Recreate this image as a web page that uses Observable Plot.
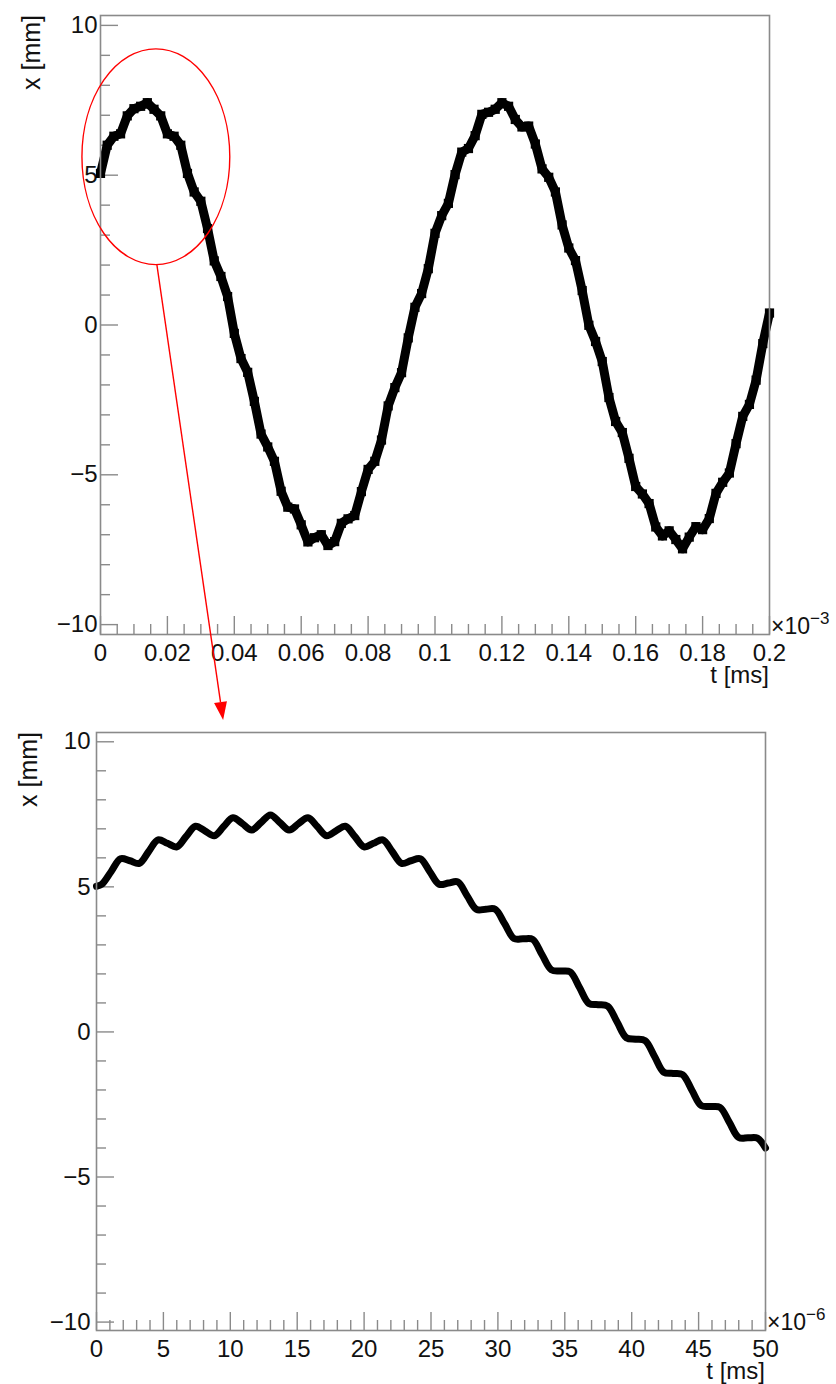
<!DOCTYPE html>
<html><head><meta charset="utf-8">
<script src="https://cdn.jsdelivr.net/npm/d3@7"></script>
<script src="https://cdn.jsdelivr.net/npm/@observablehq/plot@0.6"></script>
<style>
html,body{margin:0;padding:0;background:#fff;}
#wrap{position:relative;width:836px;height:1384px;font-family:"Liberation Sans",Arial,Helvetica,sans-serif;}
#wrap > svg{position:absolute;left:0;}
</style></head><body><div id="wrap"></div>
<script>
// ---------- data ----------
// top panel: t in units of 1e-3 ms, x in mm
const topT = [0,0.002,0.004,0.006,0.008,0.010,0.012,0.014,0.016,0.018,
 0.020,0.022,0.024,0.026,0.028,0.030,0.032,0.034,0.036,0.038,
 0.040,0.042,0.044,0.046,0.048,0.050,0.052,0.054,0.056,0.058,
 0.060,0.062,0.064,0.066,0.068,0.070,0.072,0.074,0.076,0.078,
 0.080,0.082,0.084,0.086,0.088,0.090,0.092,0.094,0.096,0.098,
 0.100,0.102,0.104,0.106,0.108,0.110,0.112,0.114,0.116,0.118,
 0.120,0.122,0.124,0.126,0.128,0.130,0.132,0.134,0.136,0.138,
 0.140,0.142,0.144,0.146,0.148,0.150,0.152,0.154,0.156,0.158,
 0.160,0.162,0.164,0.166,0.168,0.170,0.172,0.174,0.176,0.178,
 0.180,0.182,0.184,0.186,0.188,0.190,0.192,0.194,0.196,0.198,
 0.200];
const topX = [5.06,6.00,6.30,6.38,6.98,7.22,7.30,7.42,7.20,6.98,
 6.38,6.30,6.00,5.06,4.44,4.13,3.22,2.14,1.62,0.95,
 -0.28,-1.12,-1.58,-2.55,-3.64,-4.07,-4.55,-5.55,-6.08,-6.14,
 -6.67,-7.24,-7.10,-7.00,-7.36,-7.23,-6.62,-6.47,-6.36,-5.56,
 -4.82,-4.55,-3.84,-2.70,-2.09,-1.59,-0.43,0.59,1.05,1.88,
 3.06,3.65,4.06,5.02,5.77,5.89,6.32,7.03,7.10,7.20,
 7.42,7.30,6.86,6.61,6.64,6.04,5.21,4.93,4.44,3.34,
 2.57,2.15,1.15,-0.01,-0.55,-1.22,-2.42,-3.22,-3.59,-4.45,
 -5.39,-5.64,-5.96,-6.74,-7.04,-6.87,-7.16,-7.47,-7.08,-6.73,
 -6.83,-6.46,-5.62,-5.25,-4.94,-3.96,-3.05,-2.65,-1.84,-0.62,
 0.40];
// bottom panel: t in units of 1e-6 ms, x in mm
const botT = [0,0.4,1.1,1.8,2.5,3.2,3.9,4.6,5.3,6.0,6.7,7.4,8.1,8.8,9.5,10.2,10.9,11.6,12.3,13.0,
 13.7,14.4,15.1,15.8,16.5,17.2,17.9,18.6,19.3,20.0,20.7,21.4,22.1,22.8,23.5,24.2,24.9,25.6,26.3,27.0,
 27.7,28.4,29.1,29.8,30.5,31.2,31.9,32.6,33.3,34.0,34.7,35.4,36.1,36.8,37.5,38.2,38.9,39.6,40.3,41.0,
 41.7,42.4,43.1,43.8,44.5,45.2,45.9,46.6,47.3,48.0,48.7,49.4,50];
const botX = [5.02,5.09,5.53,5.97,5.90,5.81,6.22,6.62,6.50,6.38,6.74,7.09,6.93,6.76,7.08,7.38,7.18,6.96,7.22,7.48,
 7.22,6.96,7.18,7.38,7.08,6.76,6.93,7.09,6.74,6.38,6.50,6.62,6.22,5.81,5.90,5.97,5.53,5.09,5.13,5.17,
 4.69,4.22,4.23,4.23,3.73,3.22,3.21,3.19,2.66,2.14,2.10,2.07,1.53,0.98,0.94,0.89,0.35,-0.20,-0.25,-0.30,
 -0.84,-1.39,-1.43,-1.47,-2.01,-2.54,-2.57,-2.60,-3.12,-3.64,-3.65,-3.66,-4.00];

const topXTicks = [0,0.02,0.04,0.06,0.08,0.1,0.12,0.14,0.16,0.18,0.2];
const topXTickLabels = ["0","0.02","0.04","0.06","0.08","0.1","0.12","0.14","0.16","0.18","0.2"];
const botXTicks = [0,5,10,15,20,25,30,35,40,45,50];
const botXTickLabels = ["0","5","10","15","20","25","30","35","40","45","50"];
const yTicks = [-10,-5,0,5,10];
const yTickLabels = ["\u221210","\u22125","0","5","10"];
const xTitle = "t [ms]";
const yTitle = "x [mm]";
const topExp = "\u22123";
const botExp = "\u22126";
// annotation: ellipse around the first maximum (top-panel data units)
const ellipseT = 0.0167, ellipseX = 5.6, ellipseRT = 0.0221, ellipseRX = 3.6;
const arrowTipT = 9.5; // bottom-panel t where the arrow points

// ---------- rendering ----------
const FONT = '"Liberation Sans", Arial, Helvetica, sans-serif';
const GRAY = "#8a8a8a";
const FS = 24;

function panel(o) {
  const fw = o.width - o.ml - o.mr, fh = o.height - o.mt - o.mb;
  const lab = new Map(o.xTicks.map((d, i) => [d, o.xLabels[i]]));
  const ylab = new Map(yTicks.map((d, i) => [d, yTickLabels[i]]));
  const p = Plot.plot({
    width: o.width, height: o.height,
    marginLeft: o.ml, marginRight: o.mr, marginTop: o.mt, marginBottom: o.mb,
    x: {domain: o.xDomain}, y: {domain: o.yDomain},
    style: {fontFamily: FONT, fontSize: FS + "px", color: "#111", background: "transparent", overflow: "visible"},
    marks: [
      Plot.tickX(o.xMinor, {x: d => d, stroke: GRAY, strokeWidth: 1.4, insetTop: fh - 10}),
      Plot.tickX(o.xTicks, {x: d => d, stroke: GRAY, strokeWidth: 1.4, insetTop: fh - 18}),
      Plot.tickY(o.yMinor, {y: d => d, stroke: GRAY, strokeWidth: 1.4, insetRight: fw - 10}),
      Plot.tickY(yTicks, {y: d => d, stroke: GRAY, strokeWidth: 1.4, insetRight: fw - 18}),
      Plot.axisX(o.xTicks, {tickSize: 0, tickPadding: 9, tickFormat: d => lab.get(d), label: null, fontSize: FS}),
      Plot.axisY(yTicks, {tickSize: 0, tickPadding: o.yPad, tickFormat: d => ylab.get(d), label: null, fontSize: FS}),
      ...o.marks,
      Plot.frame({stroke: GRAY, strokeWidth: 1.6})
    ]
  });
  const svg = d3.select(p);
  const xr = o.width - o.mr, yb = o.height - o.mb;
  svg.append("text").attr("x", xr).attr("y", yb + 49).attr("text-anchor", "end")
    .attr("font-family", FONT).attr("font-size", 24).attr("fill", "#111").text(xTitle);
  svg.append("text").attr("transform", `translate(${o.yTitleX},${o.mt}) rotate(-90)`).attr("text-anchor", "end")
    .attr("font-family", FONT).attr("font-size", 25).attr("fill", "#111").text(yTitle);
  const e = svg.append("text").attr("x", xr + 2).attr("y", yb).attr("text-anchor", "start")
    .attr("font-family", FONT).attr("fill", "#111");
  e.append("tspan").attr("font-size", 23).text("\u00d710");
  e.append("tspan").attr("font-size", 17).attr("dy", -10).text(o.exp);
  return p;
}

const wrap = document.getElementById("wrap");

const topData = topT.map((t, i) => ({t, x: topX[i]}));
const topPlot = panel({
  width: 836, height: 700, ml: 100, mr: 67, mt: 15, mb: 66,
  xDomain: [0, 0.2], yDomain: [-10.33, 10.33],
  xTicks: topXTicks, xLabels: topXTickLabels, xMinor: d3.range(0, 0.2001, 0.005).filter((d, i) => i % 4 !== 0),
  yMinor: d3.range(-10, 10.001, 1).filter(d => d % 5 !== 0),
  yPad: 3, yTitleX: 40, exp: topExp,
  marks: [
    Plot.line(topData, {x: "t", y: "x", stroke: "#000", strokeWidth: 9, strokeLinejoin: "round", strokeLinecap: "round"}),
    Plot.dot(topData, {x: "t", y: "x", symbol: "square", r: 5.2, fill: "#000", stroke: "none"})
  ]
});
topPlot.style.top = "0px";
wrap.appendChild(topPlot);

const botPlot = panel({
  width: 836, height: 684, ml: 96, mr: 71, mt: 32, mb: 54,
  xDomain: [0, 50], yDomain: [-10.29, 10.32],
  xTicks: botXTicks, xLabels: botXTickLabels, xMinor: d3.range(0, 50.001, 1).filter(d => d % 5 !== 0),
  yMinor: d3.range(-10, 10.001, 1).filter(d => d % 5 !== 0),
  yPad: 6, yTitleX: 37, exp: botExp,
  marks: [
    Plot.line(botT.map((t, i) => ({t, x: botX[i]})), {x: "t", y: "x", stroke: "#000", strokeWidth: 7, curve: "catmull-rom", strokeLinejoin: "round", strokeLinecap: "round"})
  ]
});
botPlot.style.top = "700px";
wrap.appendChild(botPlot);

// overlay: ellipse + arrow
const ov = d3.select(wrap).append("svg").attr("width", 836).attr("height", 1384)
  .style("position", "absolute").style("top", "0px").style("left", "0px").style("pointer-events", "none");
const tx = topPlot.scale("x"), ty = topPlot.scale("y");
const bx = botPlot.scale("x"), by = botPlot.scale("y");
const cx = tx.apply(ellipseT), cy = ty.apply(ellipseX);
const rx = tx.apply(ellipseT + ellipseRT) - cx, ry = ty.apply(ellipseX - ellipseRX) - cy;
ov.append("ellipse").attr("cx", cx).attr("cy", cy).attr("rx", rx).attr("ry", ry)
  .attr("fill", "none").attr("stroke", "#f00").attr("stroke-width", 1.4);
const x0 = cx + 1, y0 = cy + ry;
const x1 = bx.apply(arrowTipT), y1 = 700 + by.apply(10.32) - 12;
const ang = Math.atan2(y1 - y0, x1 - x0), L = 18, W = 6.5;
const bxp = x1 - L * Math.cos(ang), byp = y1 - L * Math.sin(ang);
ov.append("line").attr("x1", x0).attr("y1", y0).attr("x2", bxp).attr("y2", byp)
  .attr("stroke", "#f00").attr("stroke-width", 1.4);
ov.append("path").attr("d", `M${x1},${y1}L${bxp - W * Math.sin(ang)},${byp + W * Math.cos(ang)}L${bxp + W * Math.sin(ang)},${byp - W * Math.cos(ang)}Z`)
  .attr("fill", "#f00");
</script></body></html>
